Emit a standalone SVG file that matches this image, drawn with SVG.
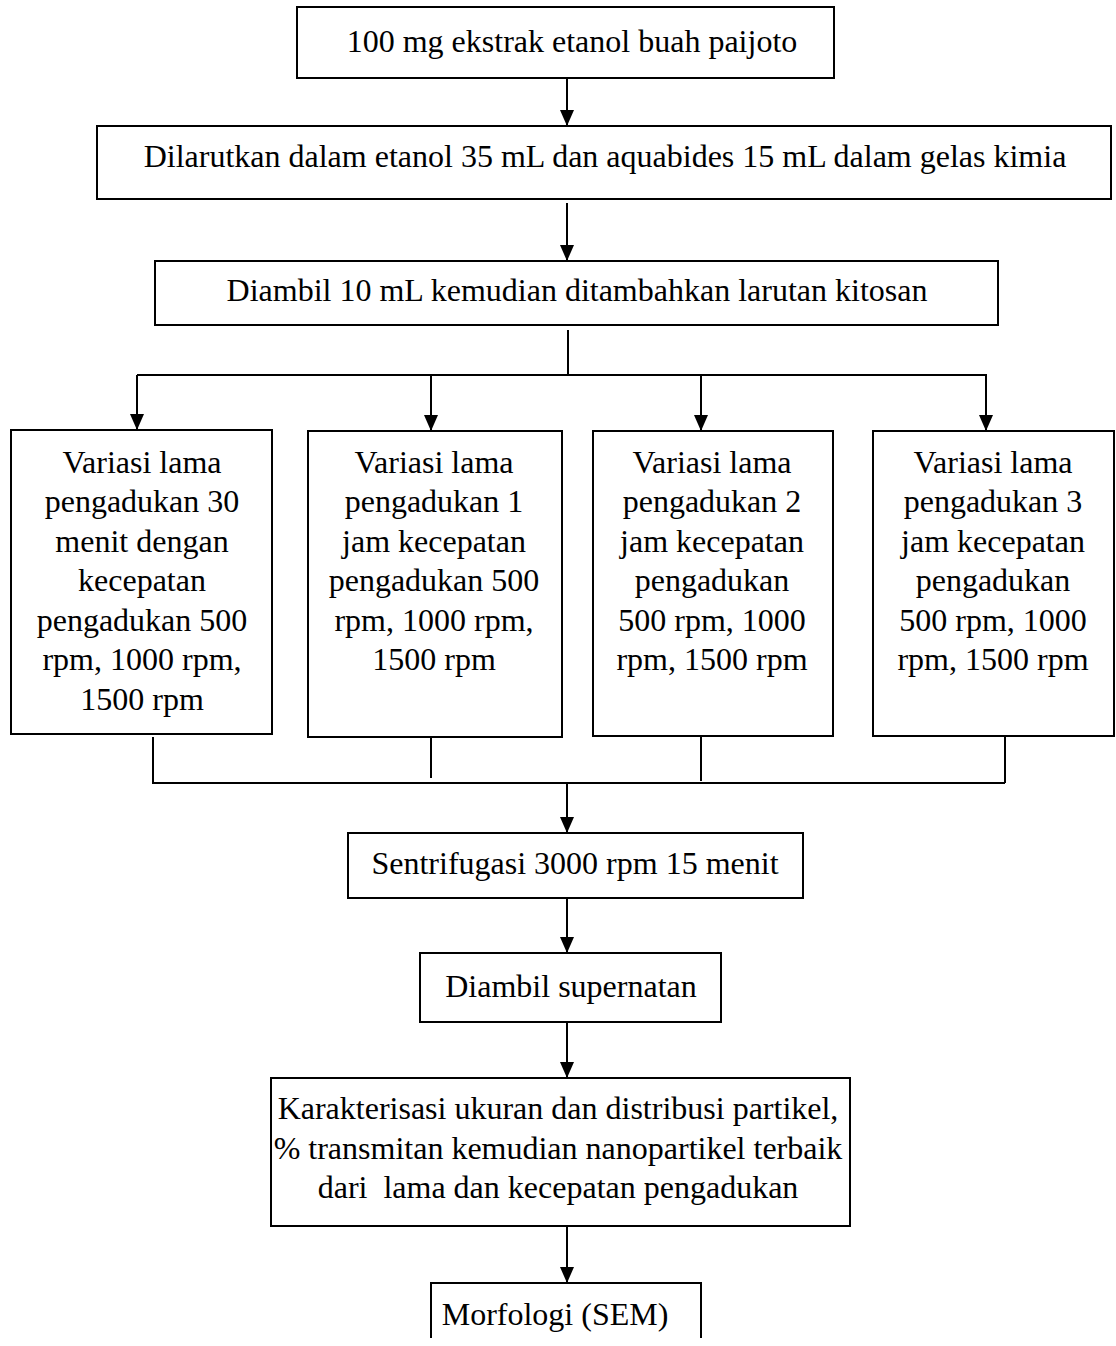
<svg xmlns="http://www.w3.org/2000/svg" width="1116" height="1346" viewBox="0 0 1116 1346">
<style>
.box{fill:#fff;stroke:#000;stroke-width:2}
.t{font-family:"Liberation Serif","Times New Roman",serif;font-size:32px;fill:#000;text-anchor:middle}
.c{fill:none;stroke:#000;stroke-width:2}
</style>
<defs>
<marker id="ah" viewBox="0 0 16 14" refX="16" refY="7" markerWidth="16" markerHeight="14" markerUnits="userSpaceOnUse" orient="auto">
<path d="M0,0 L16,7 L0,14 z" fill="#000"/>
</marker>
</defs>
<rect width="1116" height="1346" fill="#fff"/>
<g id="connectors">
<line class="c" x1="567" y1="78" x2="567" y2="126" marker-end="url(#ah)"/>
<line class="c" x1="567" y1="203" x2="567" y2="261" marker-end="url(#ah)"/>
<line class="c" x1="568" y1="330" x2="568" y2="375"/>
<line class="c" x1="137" y1="375" x2="987" y2="375"/>
<line class="c" x1="137" y1="375" x2="137" y2="430" marker-end="url(#ah)"/>
<line class="c" x1="431" y1="375" x2="431" y2="431" marker-end="url(#ah)"/>
<line class="c" x1="701" y1="375" x2="701" y2="431" marker-end="url(#ah)"/>
<line class="c" x1="986" y1="375" x2="986" y2="431" marker-end="url(#ah)"/>
<line class="c" x1="153" y1="737" x2="153" y2="784"/>
<line class="c" x1="431" y1="737" x2="431" y2="778"/>
<line class="c" x1="701" y1="734" x2="701" y2="781"/>
<line class="c" x1="1005" y1="737" x2="1005" y2="783"/>
<line class="c" x1="152" y1="783" x2="1005" y2="783"/>
<line class="c" x1="567" y1="783" x2="567" y2="833" marker-end="url(#ah)"/>
<line class="c" x1="567" y1="898" x2="567" y2="953" marker-end="url(#ah)"/>
<line class="c" x1="567" y1="1022" x2="567" y2="1078" marker-end="url(#ah)"/>
<line class="c" x1="567" y1="1226" x2="567" y2="1283" marker-end="url(#ah)"/>
</g>
<g id="n1">
<rect class="box" x="297" y="7" width="537" height="71"/>
<text class="t" x="572" y="52">100 mg ekstrak etanol buah paijoto</text>
</g>
<g id="n2">
<rect class="box" x="97" y="126" width="1014" height="73"/>
<text class="t" x="605" y="167">Dilarutkan dalam etanol 35 mL dan aquabides 15 mL dalam gelas kimia</text>
</g>
<g id="n3">
<rect class="box" x="155" y="261" width="843" height="64"/>
<text class="t" x="577" y="301">Diambil 10 mL kemudian ditambahkan larutan kitosan</text>
</g>
<g id="n4a">
<rect class="box" x="11" y="430" width="261" height="304"/>
<text class="t" x="142"><tspan x="142" y="473">Variasi lama</tspan><tspan x="142" y="512">pengadukan 30</tspan><tspan x="142" y="552">menit dengan</tspan><tspan x="142" y="591">kecepatan</tspan><tspan x="142" y="631">pengadukan 500</tspan><tspan x="142" y="670">rpm, 1000 rpm,</tspan><tspan x="142" y="710">1500 rpm</tspan></text>
</g>
<g id="n4b">
<rect class="box" x="308" y="431" width="254" height="306"/>
<text class="t" x="434"><tspan x="434" y="473">Variasi lama</tspan><tspan x="434" y="512">pengadukan 1</tspan><tspan x="434" y="552">jam kecepatan</tspan><tspan x="434" y="591">pengadukan 500</tspan><tspan x="434" y="631">rpm, 1000 rpm,</tspan><tspan x="434" y="670">1500 rpm</tspan></text>
</g>
<g id="n4c">
<rect class="box" x="593" y="431" width="240" height="305"/>
<text class="t" x="712"><tspan x="712" y="473">Variasi lama</tspan><tspan x="712" y="512">pengadukan 2</tspan><tspan x="712" y="552">jam kecepatan</tspan><tspan x="712" y="591">pengadukan</tspan><tspan x="712" y="631">500 rpm, 1000</tspan><tspan x="712" y="670">rpm, 1500 rpm</tspan></text>
</g>
<g id="n4d">
<rect class="box" x="873" y="431" width="241" height="305"/>
<text class="t" x="993"><tspan x="993" y="473">Variasi lama</tspan><tspan x="993" y="512">pengadukan 3</tspan><tspan x="993" y="552">jam kecepatan</tspan><tspan x="993" y="591">pengadukan</tspan><tspan x="993" y="631">500 rpm, 1000</tspan><tspan x="993" y="670">rpm, 1500 rpm</tspan></text>
</g>
<g id="n5">
<rect class="box" x="348" y="833" width="455" height="65"/>
<text class="t" x="575" y="874">Sentrifugasi 3000 rpm 15 menit</text>
</g>
<g id="n6">
<rect class="box" x="420" y="953" width="301" height="69"/>
<text class="t" x="571" y="997">Diambil supernatan</text>
</g>
<g id="n7">
<rect class="box" x="271" y="1078" width="579" height="148"/>
<text class="t" x="558"><tspan x="558" y="1119">Karakterisasi ukuran dan distribusi partikel,</tspan><tspan x="558" y="1159">% transmitan kemudian nanopartikel terbaik</tspan><tspan x="558" y="1198">dari&#160; lama dan kecepatan pengadukan</tspan></text>
</g>
<g id="n8">
<path class="c" d="M431,1338 V1283 H701 V1338"/>
<text class="t" x="555" y="1325">Morfologi (SEM)</text>
</g>
</svg>
